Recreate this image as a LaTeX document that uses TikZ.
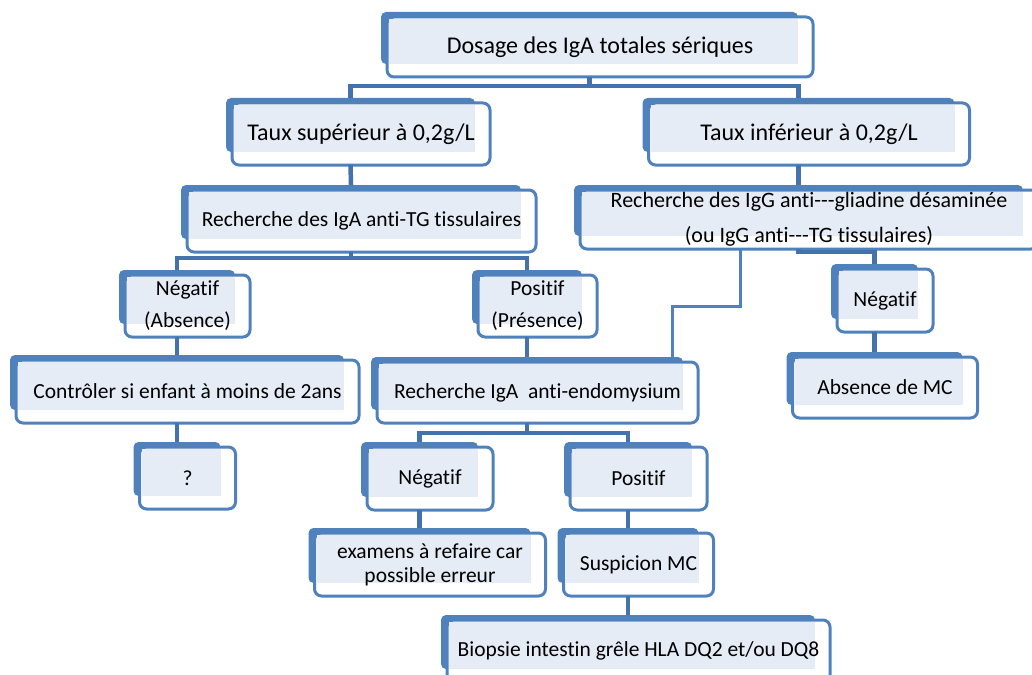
\documentclass[tikz,border=0pt]{standalone}
\usepackage{fontspec}
\setmainfont{Carlito}[Ligatures=NoCommon]
\usetikzlibrary{calc,backgrounds}

\definecolor{bleu}{RGB}{79,129,189}
\definecolor{bleulien}{RGB}{68,114,172}
\definecolor{trame}{RGB}{230,236,245}

\tikzset{
  boite/.style={inner sep=0pt, outer sep=0pt, align=center, minimum height=62pt,
    font=\fontsize{21.5}{25}\selectfont},
  grand/.style={font=\fontsize{24}{28}\selectfont},
  lien/.style={draw=bleulien, line width=4.5pt, line join=miter},
  fin/.style={draw=bleu, line width=3pt},
}

\begin{document}
\begin{tikzpicture}[x=1pt, y=-1pt]
  \useasboundingbox (0,0) rectangle (1032,674);
  \clip (0,0) rectangle (1032,674);

  % niveau 1 et 2
  \node[boite, grand, minimum width=426pt, minimum height=60pt] (dosage) at (600,47) {Dosage des IgA totales sériques};
  \node[boite, grand, minimum width=258pt] (tauxsup) at (361,134) {Taux supérieur à 0,2g/L};
  \node[boite, grand, minimum width=321pt] (tauxinf) at (809,134) {Taux inférieur à 0,2g/L};

  % recherches
  \node[boite, minimum width=349pt] (igatg) at (361.5,221) {Recherche des IgA anti-TG tissulaires};
  \node[boite, minimum width=458pt, minimum height=59pt, font=\fontsize{22}{35}\selectfont] (igg) at (809,219.5)
    {Recherche des IgG anti-{}-{}-gliadine désaminée\\(ou IgG anti-{}-{}-TG tissulaires)};

  % branche gauche
  \node[boite, minimum width=125pt, font=\fontsize{21.5}{32}\selectfont] (neg1) at (187.5,306) {Négatif\\(Absence)};
  \node[boite, minimum width=119pt, font=\fontsize{21.5}{32}\selectfont] (pos1) at (537.5,306) {Positif\\(Présence)};
  \node[boite, minimum width=343pt, minimum height=63pt] (controle) at (187.5,391.5) {Contrôler si enfant à moins de 2ans};
  \node[boite, minimum width=96pt] (question) at (187.5,478) {?};

  % anti-endomysium
  \node[boite, minimum width=321pt, minimum height=61pt] (endo) at (537.5,392.5) {Recherche IgA\ \ anti-endomysium};
  \node[boite, minimum width=126pt, minimum height=63pt] (neg2) at (430,478.5) {Négatif};
  \node[boite, minimum width=137pt, minimum height=63pt] (pos2) at (638.5,478.5) {Positif};
  \node[boite, minimum width=231pt, minimum height=63pt, font=\fontsize{21.5}{24}\selectfont] (examens) at (430,564.5)
    {examens à refaire car\\possible erreur};
  \node[boite, minimum width=150pt, minimum height=63pt] (suspicion) at (638.5,564.5) {Suspicion MC};
  \node[boite, minimum width=383pt] (biopsie) at (638.5,651) {Biopsie intestin grêle HLA DQ2 et/ou DQ8};

  % branche droite
  \node[boite, minimum width=96pt, minimum height=63pt] (neg3) at (885,300.5) {Négatif};
  \node[boite, minimum width=185pt, minimum height=61pt] (absence) at (885,387.5) {Absence de MC};

  % les cadres
  \begin{scope}[on background layer]
    \foreach \n in {dosage,tauxsup,tauxinf,igatg,igg,neg1,pos1,controle,question,
                    endo,neg2,pos2,examens,suspicion,biopsie,neg3,absence} {
      \fill[bleu, rounded corners=5pt] ($(\n.north west)+(-6,-5)$) rectangle ($(\n.south east)+(-15,-13)$);
      \filldraw[fill=white, draw=bleu, line width=3pt, rounded corners=7pt] (\n.north west) rectangle (\n.south east);
      \fill[trame] ($(\n.north west)+(2,2)$) rectangle ($(\n.south east)+(-15,-13)$);
    }
  \end{scope}

  % liaisons
  \draw[lien] ($(dosage.south)+(-10.5,0)$) -- ++(0,9) coordinate (b1);
  \draw[lien] ($(tauxsup.north)+(-10.5,-5)$) |- (b1) -| ($(tauxinf.north)+(-10.5,-5)$);
  \draw[lien] ($(tauxsup.south)+(-10.5,0)$) -- ($(igatg.north)+(-10.5,-5)$);
  \draw[lien] ($(tauxinf.south)+(-10.5,0)$) -- ($(igg.north)+(-10.5,-5)$);

  \draw[lien] ($(igatg.south)+(-10.5,0)$) -- ++(0,6) coordinate (b2);
  \draw[lien] ($(neg1.north)+(-10.5,-5)$) |- (b2) -| ($(pos1.north)+(-10.5,-5)$);
  \draw[lien] ($(neg1.south)+(-10.5,0)$) -- ($(controle.north)+(-10.5,-5)$);
  \draw[lien] ($(controle.south)+(-10.5,0)$) -- ($(question.north)+(-10.5,-5)$);
  \draw[lien] ($(pos1.south)+(-10.5,0)$) -- ($(endo.north)+(-10.5,-5)$);

  \draw[lien] ($(endo.south)+(-10.5,0)$) -- ++(0,10) coordinate (b3);
  \draw[lien] ($(neg2.north)+(-10.5,-5)$) |- (b3) -| ($(pos2.north)+(-10.5,-5)$);
  \draw[lien] ($(neg2.south)+(-10.5,0)$) -- ($(examens.north)+(-10.5,-5)$);
  \draw[lien] ($(pos2.south)+(-10.5,0)$) -- ($(suspicion.north)+(-10.5,-5)$);
  \draw[lien] ($(suspicion.south)+(-10.5,0)$) -- ($(biopsie.north)+(-10.5,-5)$);

  \draw[lien] ($(igg.south)+(-10.5,0)$) -- ++(0,3) -| ($(neg3.north)+(-10.5,-5)$);
  \draw[lien] ($(neg3.south)+(-10.5,0)$) -- ($(absence.north)+(-10.5,-5)$);
  \draw[fin] ($(igg.south west)+(160,0)$) |- ($(endo.north east)+(-26,-56)$) -- ($(endo.north east)+(-26,-5)$);
\end{tikzpicture}
\end{document}
